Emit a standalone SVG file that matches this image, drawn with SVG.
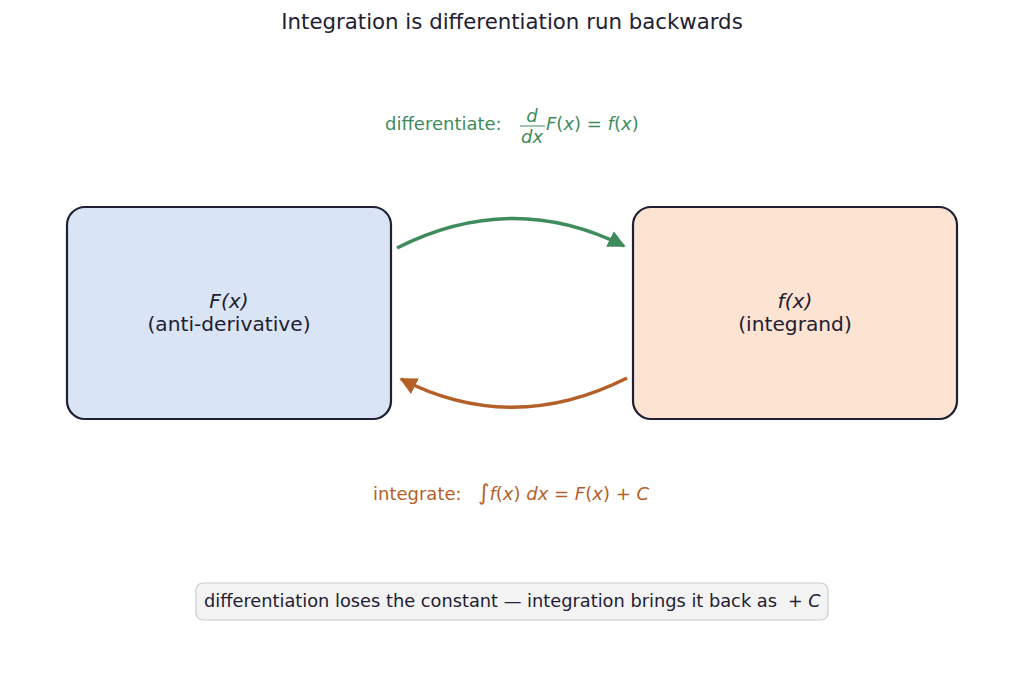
<svg xmlns="http://www.w3.org/2000/svg" width="1024" height="683" viewBox="0 0 1024 683">
<style>
text{font-family:"DejaVu Sans",sans-serif;fill:#1f2033}
.box{stroke:#1f2033;stroke-width:2.2}
.i{font-style:italic}
.g{fill:#3e8c5c}
.b{fill:#b55f28}
</style>
<defs>
<marker id="ag" viewBox="0 0 10 10" refX="9" refY="5" markerWidth="5" markerHeight="5" orient="auto" markerUnits="strokeWidth"><path d="M0,0L10,5L0,10z" fill="#3e8c5c"/></marker>
<marker id="ab" viewBox="0 0 10 10" refX="9" refY="5" markerWidth="5" markerHeight="5" orient="auto" markerUnits="strokeWidth"><path d="M0,0L10,5L0,10z" fill="#b55f28"/></marker>
</defs>
<rect width="1024" height="683" fill="#fff"/>
<text x="512" y="29" font-size="21.3" text-anchor="middle">Integration is differentiation run backwards</text>
<g id="diff-label" font-size="18">
<text x="385" y="130" class="g">differentiate:</text>
<text x="532" y="122" class="g i" text-anchor="middle">d</text>
<line x1="520" y1="126" x2="545" y2="126" stroke="#3e8c5c" stroke-width="1"/>
<text x="532" y="143" class="g i" text-anchor="middle">dx</text>
<text x="546" y="130" class="g"><tspan class="i">F</tspan>(<tspan class="i">x</tspan>) = <tspan class="i">f</tspan>(<tspan class="i">x</tspan>)</text>
</g>
<g id="node-F">
<rect class="box" x="67" y="207" width="324" height="212" rx="18" fill="#d9e5f4"/>
<text x="229" y="308" font-size="20.2" text-anchor="middle" class="i">F(x)</text>
<text x="229" y="331" font-size="20.2" text-anchor="middle">(anti-derivative)</text>
</g>
<g id="node-f">
<rect class="box" x="633" y="207" width="324" height="212" rx="18" fill="#fce3d2"/>
<text x="795" y="308" font-size="20.2" text-anchor="middle" class="i">f(x)</text>
<text x="795" y="331" font-size="20.2" text-anchor="middle">(integrand)</text>
</g>
<g id="connectors" fill="none" stroke-width="3.5">
<path d="M397,248 Q512,190 624,246" stroke="#3e8c5c" marker-end="url(#ag)"/>
<path d="M627,378 Q512,436 401,379" stroke="#b55f28" marker-end="url(#ab)"/>
</g>
<g id="int-label" font-size="18">
<text x="373" y="500" class="b">integrate:</text>
<text x="478" y="500" class="b"><tspan font-size="22">∫</tspan><tspan class="i">f</tspan>(<tspan class="i">x</tspan>) <tspan class="i">dx</tspan> = <tspan class="i">F</tspan>(<tspan class="i">x</tspan>) + <tspan class="i">C</tspan></text>
</g>
<g id="note">
<rect x="196" y="583" width="632" height="37" rx="7" fill="#f3f3f3" stroke="#cccccc" stroke-width="1.2"/>
<text x="204" y="607" font-size="17.5" textLength="573" lengthAdjust="spacingAndGlyphs">differentiation loses the constant — integration brings it back as</text>
<text x="788" y="607" font-size="17.5">+ <tspan class="i">C</tspan></text>
</g>
</svg>
